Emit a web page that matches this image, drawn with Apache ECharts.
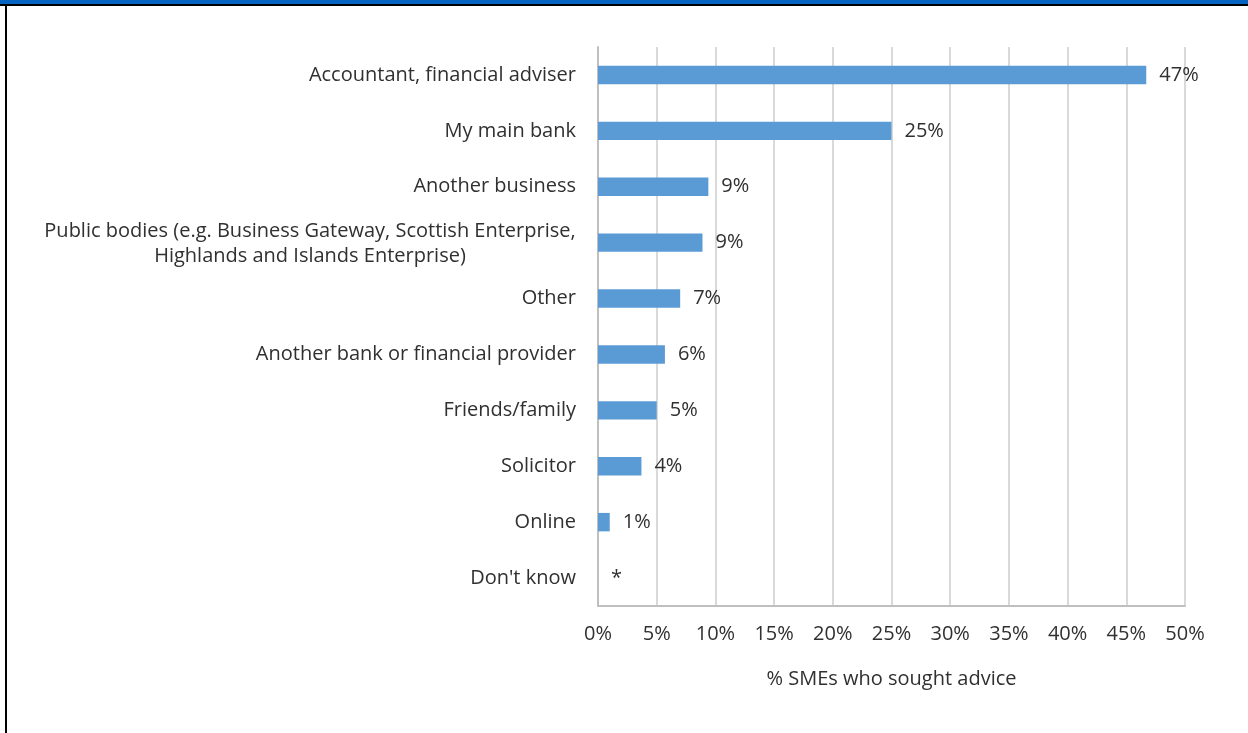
<!DOCTYPE html>
<html>
<head>
<meta charset="utf-8">
<style>
  html, body { margin: 0; padding: 0; background: #fff; }
  #chart { width: 1248px; height: 733px; }
</style>
<script src="https://cdn.jsdelivr.net/npm/echarts@6/dist/echarts.min.js"></script>
</head>
<body>
<div id="chart"></div>
<script>
// categories from bottom to top (y-axis category order)
const categories = [
  "Don't know",
  'Online',
  'Solicitor',
  'Friends/family',
  'Another bank or financial provider',
  'Other',
  'Public bodies (e.g. Business Gateway, Scottish Enterprise,\nHighlands and Islands Enterprise)',
  'Another business',
  'My main bank',
  'Accountant, financial adviser',
];
const values = [0, 1, 3.7, 5, 5.7, 7, 8.9, 9.4, 25, 46.7];
const valueLabels = ['*', '1%', '4%', '5%', '6%', '7%', '9%', '9%', '25%', '47%'];
const xTicks = [0, 5, 10, 15, 20, 25, 30, 35, 40, 45, 50];

const font = '"Open Sans", sans-serif';
const textColor = '#303030';
const fontSize = 20;

// width of the widest line, so multi-line labels can be centred like the original
const ctx = document.createElement('canvas').getContext('2d');
ctx.font = fontSize + 'px ' + font;
const measure = (s) => Math.ceil(ctx.measureText(s).width);

const chart = echarts.init(document.getElementById('chart'));

const option = {
  animation: false,
  backgroundColor: '#ffffff',
  grid: {
    left: 598,
    right: 63,
    top: 47,
    bottom: 127,
  },
  graphic: [
    { type: 'rect', shape: { x: 0, y: 0, width: 1248, height: 4 }, style: { fill: '#0563c1' } },
    { type: 'rect', shape: { x: 0, y: 4, width: 1248, height: 2 }, style: { fill: '#000000' } },
    { type: 'rect', shape: { x: 5, y: 4, width: 2, height: 729 }, style: { fill: '#000000' } },
  ],
  xAxis: {
    type: 'value',
    min: xTicks[0],
    max: xTicks[xTicks.length - 1],
    interval: 5,
    name: '% SMEs who sought advice',
    nameLocation: 'middle',
    nameGap: 63,
    nameTextStyle: { color: textColor, fontSize: fontSize, fontFamily: font },
    axisLine: { show: true, lineStyle: { color: '#bfbfbf', width: 2 } },
    axisTick: { show: false },
    axisLabel: {
      color: textColor,
      fontSize: fontSize,
      fontFamily: font,
      margin: 18,
      formatter: (v) => v + '%',
    },
    splitLine: { show: true, lineStyle: { color: '#d9d9d9', width: 2 } },
  },
  yAxis: {
    type: 'category',
    data: categories,
    axisLine: { show: true, lineStyle: { color: '#bfbfbf', width: 2 } },
    axisTick: { show: false },
    axisLabel: {
      color: textColor,
      fontSize: fontSize,
      fontFamily: font,
      margin: 22,
      align: 'right',
      lineHeight: 25,
      formatter: (v) => {
        const lines = v.split('\n');
        if (lines.length === 1) return v;
        return lines.map((l) => '{c|' + l + '}').join('\n');
      },
      rich: {
        c: {
          width: measure('Public bodies (e.g. Business Gateway, Scottish Enterprise,'),
          align: 'center',
          color: textColor,
          fontSize: fontSize,
          fontFamily: font,
          lineHeight: 25,
          padding: [3, 0, 0, 0],
        },
      },
    },
  },
  series: [
    {
      type: 'bar',
      data: values,
      barCategoryGap: '67%',
      itemStyle: { color: '#5b9bd5' },
      label: {
        show: true,
        position: 'right',
        distance: 13,
        color: textColor,
        fontSize: fontSize,
        fontFamily: font,
        formatter: (p) => valueLabels[p.dataIndex],
      },
    },
  ],
};

chart.setOption(option);
</script>
</body>
</html>
